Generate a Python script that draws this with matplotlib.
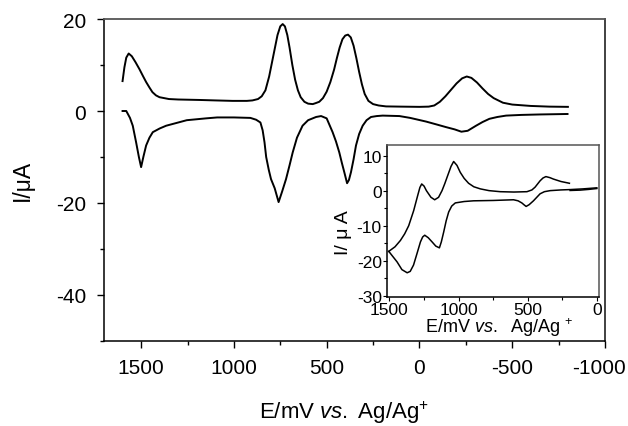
import matplotlib
matplotlib.use("Agg")
import matplotlib.pyplot as plt
import matplotlib.transforms as mtransforms
from matplotlib.ticker import MultipleLocator

plt.rcParams['font.family'] = ['Liberation Sans', 'DejaVu Sans']
plt.rcParams['mathtext.fontset'] = 'custom'
plt.rcParams['mathtext.rm'] = 'Liberation Sans'
plt.rcParams['mathtext.it'] = 'Liberation Sans:italic'
plt.rcParams['mathtext.bf'] = 'Liberation Sans:bold'
plt.rcParams['axes.unicode_minus'] = False

# ---- main CV: anodic (upper) branch ----
main_up_E = [1600, 1590, 1580, 1567, 1550, 1530, 1509, 1490, 1473, 1455, 1439, 1420, 1401,
             1350, 1300, 1185, 1100, 1007, 930, 900, 870, 850, 830, 810, 795, 780, 765,
             750, 737, 725, 712, 700, 685, 670, 655, 640, 620, 600, 575, 560, 540, 520,
             500, 480, 460, 445, 430, 415, 400, 385, 370, 355, 340, 325, 310, 295, 275,
             250, 220, 180, 100, 0, -50, -80, -110, -140, -170, -200, -230, -255, -280,
             -310, -340, -370, -400, -450, -500, -600, -700, -800]
main_up_I = [6.5, 9.5, 11.6, 12.5, 11.9, 10.6, 9.1, 7.6, 6.3, 5.1, 4.1, 3.4, 3.0,
             2.6, 2.5, 2.4, 2.3, 2.2, 2.2, 2.3, 2.6, 3.2, 4.5, 7.5, 10.5, 13.5, 16.5,
             18.4, 18.9, 18.4, 16.5, 13.8, 10.0, 6.8, 4.5, 3.0, 2.0, 1.6, 1.5, 1.7, 2.0, 2.8,
             4.2, 6.3, 9.0, 11.5, 13.8, 15.6, 16.4, 16.6, 16.0, 14.2, 11.5, 8.5, 5.8, 3.7, 2.2,
             1.5, 1.2, 1.0, 0.95, 0.9, 0.95, 1.2, 2.0, 3.2, 4.6, 6.0, 7.1, 7.5, 7.2,
             6.2, 4.9, 3.7, 2.8, 1.8, 1.4, 1.1, 0.95, 0.9]

# ---- main CV: cathodic (lower) branch ----
main_dn_E = [1600, 1580, 1560, 1545, 1527, 1512, 1500, 1488, 1473, 1455, 1437, 1400, 1365,
             1300, 1254, 1150, 1090, 1000, 911, 880, 857, 845, 835, 826, 812, 800, 780,
             759, 740, 719, 700, 683, 660, 630, 600, 557, 530, 500, 468, 450, 432, 418,
             405, 390, 380, 369, 355, 342, 325, 306, 285, 261, 230, 198, 108, 50, -36,
             -90, -143, -190, -226, -260, -305, -340, -377, -420, -467, -550, -650, -798]
main_dn_I = [0.0, 0.0, -1.5, -3.2, -6.8, -10.0, -12.2, -10.0, -7.5, -5.8, -4.6, -3.8, -3.2,
             -2.5, -2.0, -1.6, -1.4, -1.4, -1.5, -1.9, -2.5, -4.2, -6.8, -10.0, -12.8, -14.8, -16.8,
             -19.8, -17.5, -14.8, -11.8, -9.0, -5.8, -3.2, -2.0, -1.3, -1.1, -1.6, -4.6, -6.6, -9.0, -11.3,
             -13.3, -15.7, -15.0, -13.3, -10.5, -7.5, -5.0, -3.2, -2.0, -1.3, -1.1, -1.0, -1.1, -1.5, -2.3,
             -2.9, -3.5, -4.0, -4.5, -4.3, -3.2, -2.4, -1.7, -1.3, -1.0, -0.85, -0.75, -0.65]

# ---- inset CV ----
ins_up_E = [1505, 1460, 1421, 1390, 1361, 1325, 1296, 1280, 1267, 1250, 1233, 1200, 1173,
            1145, 1120, 1100, 1079, 1055, 1036, 1012, 988, 960, 928, 890, 843, 780, 699,
            600, 506, 470, 447, 411, 390, 369, 340, 315, 260, 199]
ins_up_I = [-17.3, -16.0, -14.2, -12.3, -10.0, -5.7, -1.4, 0.9, 1.9, 1.3, 0.0, -1.9, -2.6,
            -1.9, 0.0, 2.0, 4.3, 6.9, 8.3, 7.2, 5.2, 3.5, 2.1, 1.1, 0.5, 0.0, -0.3,
            -0.4, -0.3, 0.2, 1.0, 2.8, 3.6, 4.0, 3.7, 3.3, 2.6, 2.1]

ins_dn_E = [1505, 1475, 1445, 1410, 1372, 1350, 1326, 1300, 1276, 1260, 1245, 1220, 1192,
            1165, 1139, 1125, 1108, 1090, 1072, 1050, 1024, 960, 892, 750, 603, 570, 543,
            525, 512, 490, 459, 435, 411, 380, 338, 260, 194, 100, 1]
ins_dn_I = [-17.3, -18.8, -20.3, -22.5, -23.4, -23.0, -21.2, -17.8, -14.6, -13.2, -12.7, -13.4, -14.6,
            -15.8, -16.3, -14.6, -11.8, -8.6, -6.1, -4.4, -3.5, -3.1, -2.9, -2.8, -2.6, -2.9, -3.5,
            -4.1, -4.5, -4.0, -2.9, -1.9, -0.9, -0.3, 0.0, 0.2, 0.3, 0.5, 0.8]

ins_ret_E = [1, 60, 120, 194]
ins_ret_I = [0.6, 0.35, 0.15, 0.05]

main_xticks = [1500, 1000, 500, 0, -500, -1000]
main_yticks = [20, 0, -20, -40]
ins_xticks = [1500, 1000, 500, 0]
ins_yticks = [10, 0, -10, -20, -30]

fig = plt.figure(figsize=(6.28, 4.27), dpi=100)
ax = fig.add_axes([104/628, 1-342/427, (605-104)/628, (342-20)/427])
ax.plot(main_up_E, main_up_I, color='black', lw=1.4, solid_joinstyle='round')
ax.plot(main_dn_E, main_dn_I, color='black', lw=1.4, solid_joinstyle='round')
ax.set_xlim(1700, -1000)
ax.set_ylim(-50, 20)
ax.set_xticks(main_xticks)
ax.set_yticks(main_yticks)
ax.xaxis.set_minor_locator(MultipleLocator(250))
ax.yaxis.set_minor_locator(MultipleLocator(10))
ax.tick_params(which='major', direction='out', length=5, width=1, labelsize=15, pad=7)
ax.tick_params(which='minor', direction='out', length=3, width=1)
ax.tick_params(axis='y', which='major', pad=8)
for s in ['left', 'bottom']:
    ax.spines[s].set_linewidth(1.1)
ax.spines['top'].set_color('#555555')
ax.spines['right'].set_color('#333333')
ax.spines['top'].set_linewidth(1.3)
ax.spines['right'].set_linewidth(1.3)

# nudge the last x tick label left so it stays inside the figure (as in the reference)
fig.canvas.draw()
last_lbl = ax.get_xticklabels()[-1]
last_lbl.set_transform(last_lbl.get_transform() +
                       mtransforms.ScaledTranslation(-6/100, 0, fig.dpi_scale_trans))

fig.text(22/628, 1-180/427, 'I/μA', rotation=90, ha='center', va='center', fontsize=16.5)
fig.text(344/628, 1-413/427, r'E/mV $\mathit{vs.}$ Ag/Ag$^{+}$', ha='center', va='center', fontsize=16)

# inset
ai = fig.add_axes([386.7/628, 1-298/427, (599-386.7)/628, (298-146)/427])
ai.set_facecolor('white')
ai.plot(ins_up_E, ins_up_I, color='black', lw=1.1, solid_joinstyle='round')
ai.plot(ins_dn_E, ins_dn_I, color='black', lw=1.1, solid_joinstyle='round')
ai.plot(ins_ret_E, ins_ret_I, color='black', lw=1.1)
ai.set_xlim(1520, -15)
ai.set_ylim(-30.3, 13)
ai.set_xticks(ins_xticks)
ai.set_yticks(ins_yticks)
ai.xaxis.set_minor_locator(MultipleLocator(250))
ai.yaxis.set_minor_locator(MultipleLocator(5))
ai.tick_params(which='major', direction='out', length=3, width=0.8, labelsize=12.5, pad=0.5)
ai.tick_params(which='minor', direction='out', length=2, width=0.8)
ai.spines['top'].set_color('#555555')
ai.spines['right'].set_color('#555555')
for s in ai.spines.values():
    s.set_linewidth(1.1)

fig.text(343/628, 1-233/427, 'I/ μ A', rotation=90, ha='center', va='center', fontsize=14)
fig.text(499/628, 1-328/427, r'E/mV $\mathit{vs.}$  Ag/Ag $^{+}$', ha='center', va='center', fontsize=13)

fig.savefig('out.png', dpi=100)
